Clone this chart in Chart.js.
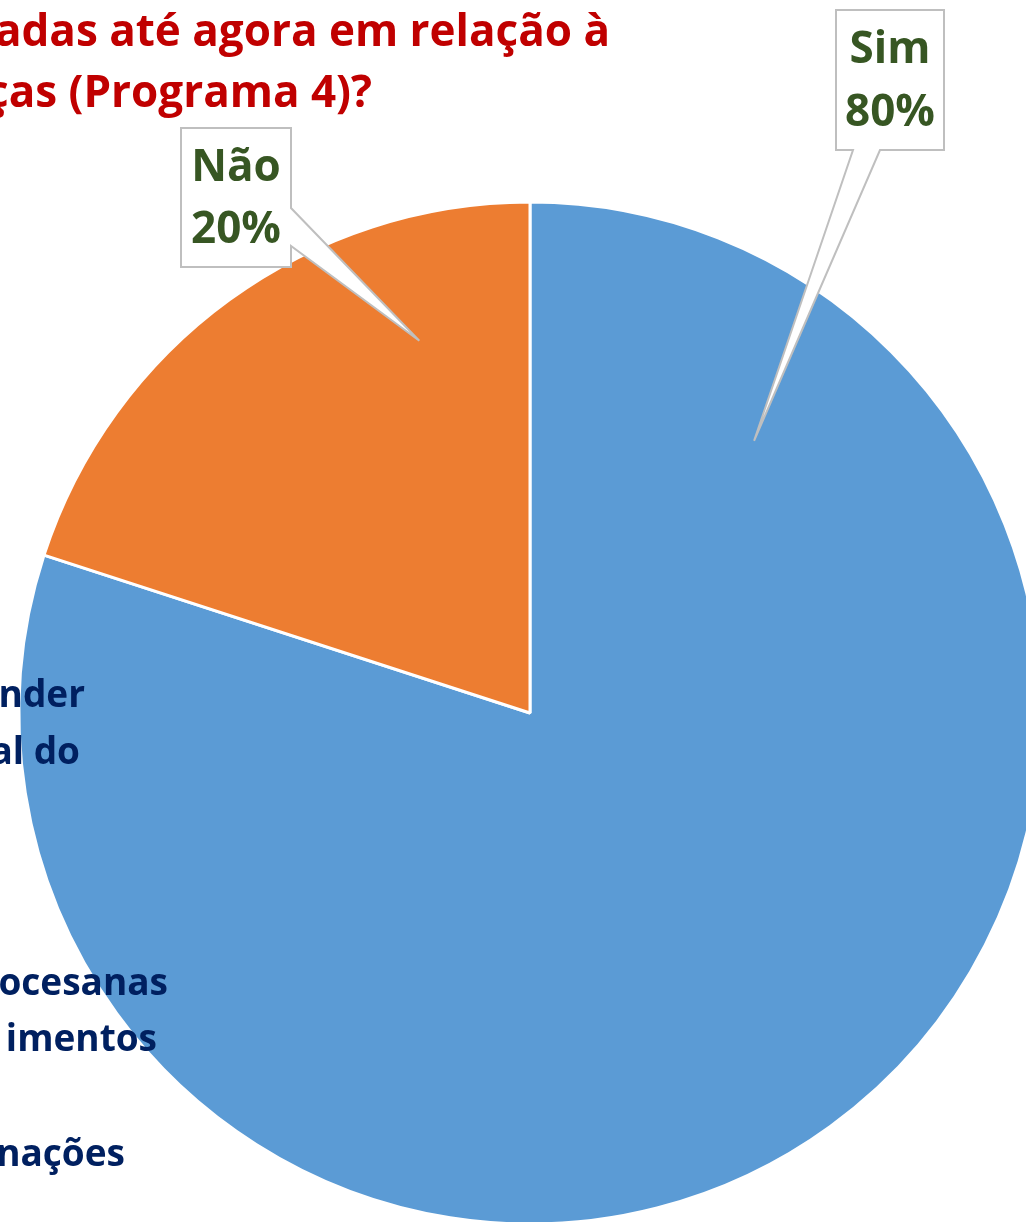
<!DOCTYPE html>
<html>
<head>
<meta charset="utf-8">
<script src="https://cdn.jsdelivr.net/npm/chart.js@4.4.1/dist/chart.umd.min.js"></script>
<style>
  html, body { margin: 0; padding: 0; overflow: hidden; background: #fff; }
  #wrap { position: relative; width: 1026px; height: 1222px; overflow: hidden; }
  canvas { position: absolute; left: 0; top: 0; }
</style>
</head>
<body>
<div id="wrap">
  <canvas id="pieChart" width="1100" height="1300"></canvas>
</div>
<script>
// data
const labels = ['Sim', 'Não']
const values = [80, 20]
const sliceColors = ['#5B9BD5', '#ED7D31']

// visible pieces of texts that are cut off by the crop
const titleLines = ['adas até agora em relação à', 'ças (Programa 4)?']
const sideLines = ['nder', 'al do', 'ocesanas', 'imentos', 'nações']

const FONT = '"Open Sans", "Noto Sans", sans-serif'

// callout boxes: box rect + where the pointer leaves it + where it lands on the slice
const callouts = [
  { box: [836, 10, 108, 140], side: 'bottom', base: [853, 880], at: 0.137, dist: 0.69 },
  { box: [181, 128, 110, 139], side: 'right', base: [208, 246], at: 0.77, dist: 0.76 }
]

const overlayPlugin = {
  id: 'overlay',
  afterDraw(chart) {
    const ctx = chart.ctx
    const arcs = chart.getDatasetMeta(0).data
    ctx.save()

    // title (red)
    ctx.fillStyle = '#C00000'
    ctx.font = `bold 44px ${FONT}`
    ctx.textBaseline = 'alphabetic'
    ctx.textAlign = 'right'
    ctx.fillText(titleLines[0], 610, 46)
    ctx.fillText(titleLines[1], 372, 107)

    // texts from the neighbouring area, over the pie
    ctx.fillStyle = '#002060'
    ctx.font = `bold 37px ${FONT}`
    const sidePos = [[85, 707], [80, 764], [168, 995], [157, 1051], [125, 1166]]
    sideLines.forEach((t, i) => ctx.fillText(t, sidePos[i][0], sidePos[i][1]))

    // callouts
    callouts.forEach((c, i) => {
      const arc = arcs[i]
      const ang = arc.startAngle + c.at * (arc.endAngle - arc.startAngle)
      const tx = arc.x + Math.cos(ang) * arc.outerRadius * c.dist
      const ty = arc.y + Math.sin(ang) * arc.outerRadius * c.dist
      const [bx, by, bw, bh] = c.box

      ctx.beginPath()
      if (c.side === 'bottom') {
        ctx.moveTo(bx, by)
        ctx.lineTo(bx + bw, by)
        ctx.lineTo(bx + bw, by + bh)
        ctx.lineTo(c.base[1], by + bh)
        ctx.lineTo(tx, ty)
        ctx.lineTo(c.base[0], by + bh)
        ctx.lineTo(bx, by + bh)
      } else {
        ctx.moveTo(bx, by)
        ctx.lineTo(bx + bw, by)
        ctx.lineTo(bx + bw, c.base[0])
        ctx.lineTo(tx, ty)
        ctx.lineTo(bx + bw, c.base[1])
        ctx.lineTo(bx + bw, by + bh)
        ctx.lineTo(bx, by + bh)
      }
      ctx.closePath()
      ctx.fillStyle = '#FFFFFF'
      ctx.fill()
      ctx.strokeStyle = '#BFBFBF'
      ctx.lineWidth = 2
      ctx.lineJoin = 'miter'
      ctx.stroke()

      const total = values.reduce((a, b) => a + b, 0)
      const pct = Math.round(values[i] / total * 100) + '%'
      ctx.fillStyle = '#375623'
      ctx.font = `bold 44px ${FONT}`
      ctx.textAlign = 'center'
      ctx.textBaseline = 'middle'
      ctx.fillText(labels[i], bx + bw / 2, by + bh * 0.29)
      ctx.fillText(pct, bx + bw / 2, by + bh * 0.74)
    })

    ctx.restore()
  }
}

const ctx = document.getElementById('pieChart').getContext('2d')
new Chart(ctx, {
  type: 'pie',
  data: {
    labels: labels,
    datasets: [{
      data: values,
      backgroundColor: sliceColors,
      borderColor: '#FFFFFF',
      borderWidth: 3
    }]
  },
  options: {
    responsive: false,
    animation: false,
    radius: 511,
    layout: {
      padding: { left: 19, top: 202, right: 59, bottom: 76 }
    },
    plugins: {
      legend: { display: false },
      tooltip: { enabled: false }
    }
  },
  plugins: [overlayPlugin]
})
</script>
</body>
</html>
